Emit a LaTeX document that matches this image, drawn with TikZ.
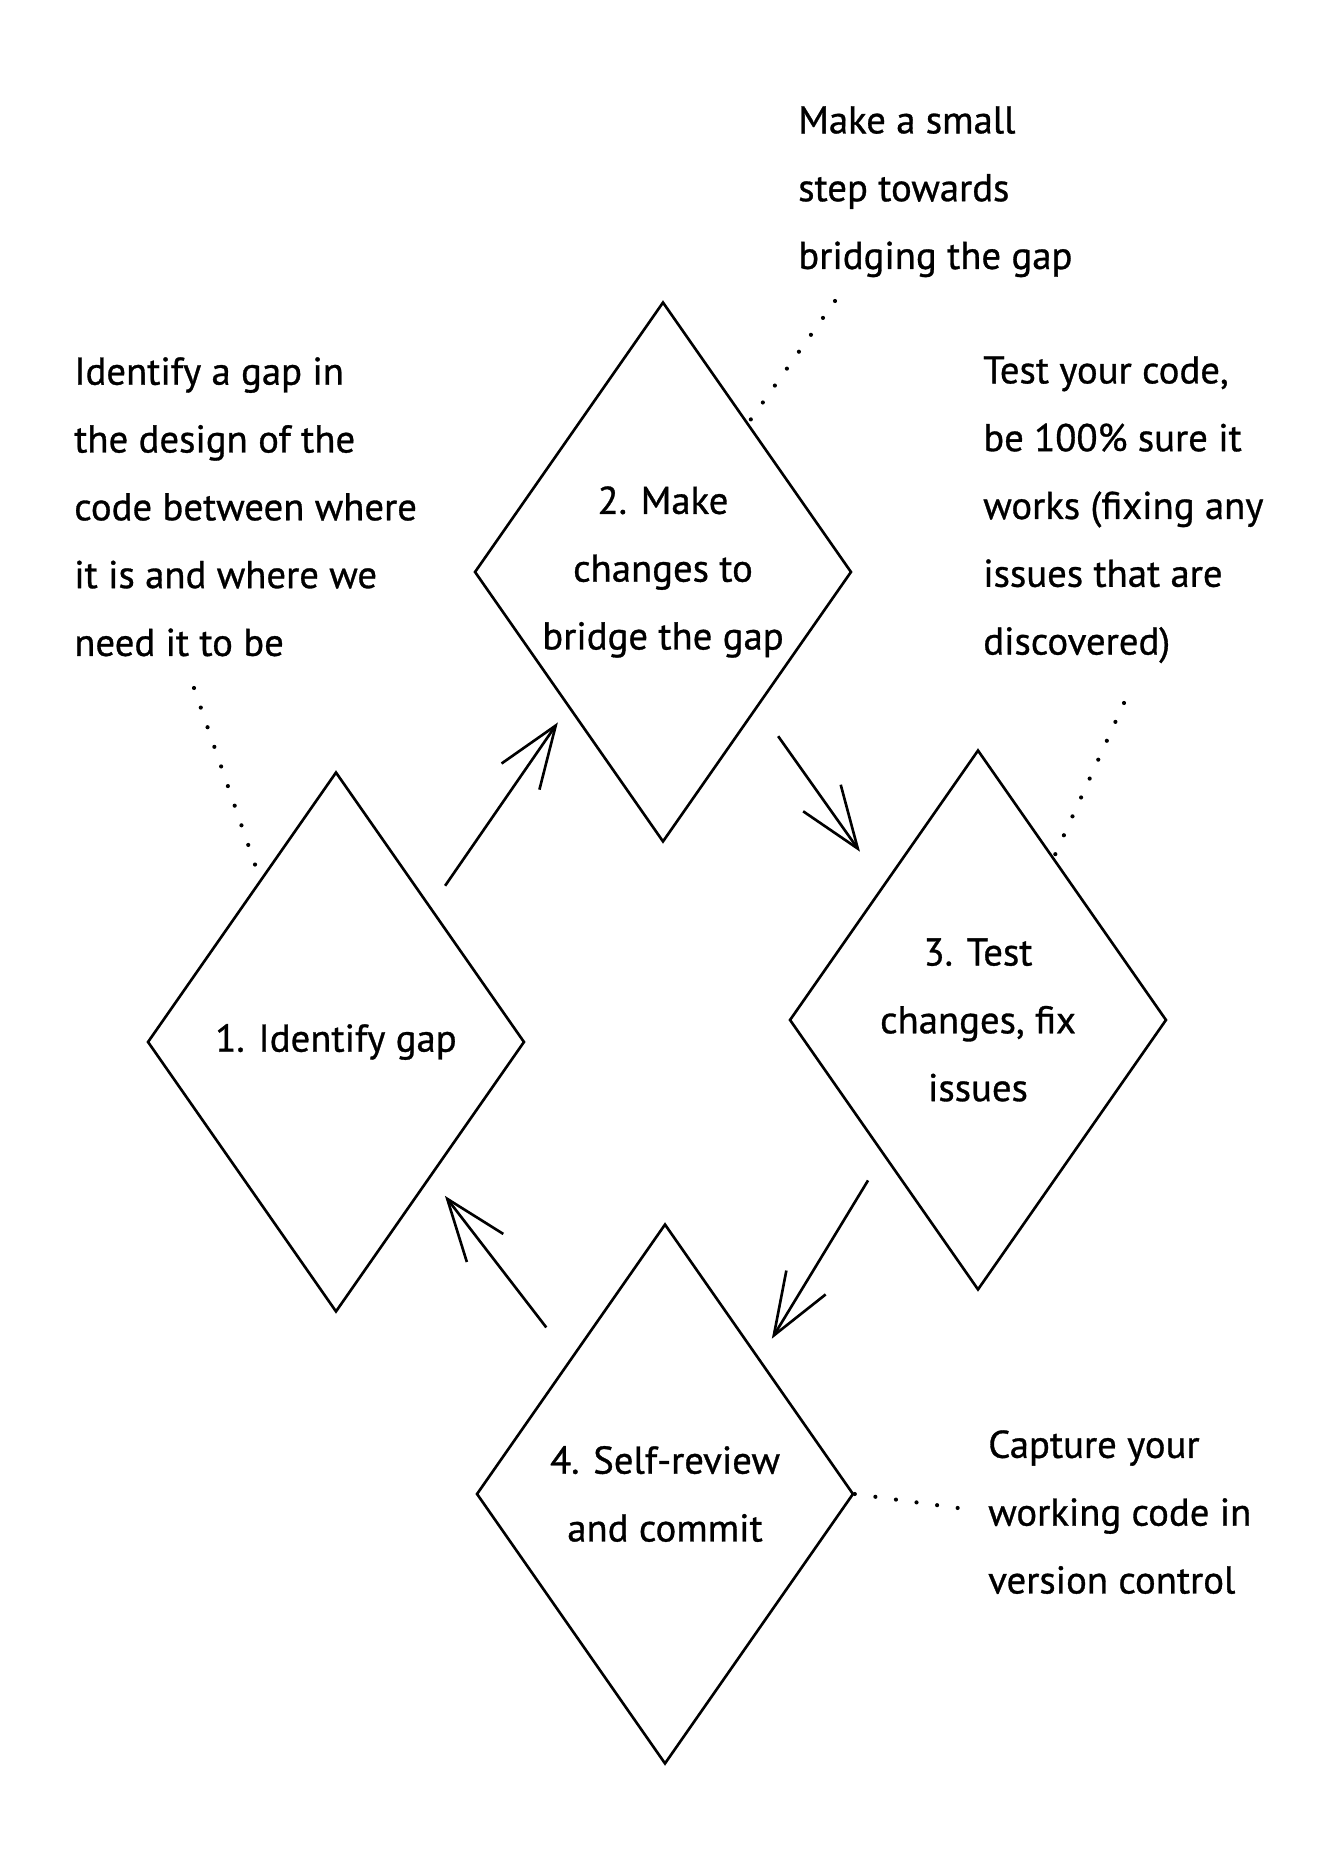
\documentclass[tikz,border=0pt]{standalone}
\usepackage{fontspec}
\setmainfont{PT Sans}[FakeBold=0.8]
\usetikzlibrary{arrows.meta,shapes.geometric,calc}
\begin{document}
\begin{tikzpicture}[x=1in,y=1in,
  stage/.style={draw=black, line width=1.9pt, shape=diamond, aspect=0.7, minimum width=3.77in, minimum height=5.40in, inner sep=0pt, align=center, font=\fontsize{28}{49}\selectfont},
  note/.style={anchor=north west, inner sep=0pt, align=left, font=\fontsize{28}{49}\selectfont},
  flow/.style={line width=1.9pt, -{Straight Barb[length=0.62in,width=0.46in,line width=1.9pt]}},
  hint/.style={line width=3pt, line cap=round, dash pattern=on 0pt off 15pt}]
\useasboundingbox (0,0) rectangle (13.39,18.69);
\node[stage] (identify) at (3.36,8.27) {1. Identify gap};
\node[stage] (change) at (6.63,12.97) {2. Make\\changes to\\bridge the gap};
\node[stage] (test) at (9.78,8.49) {3. Test\\changes, fix\\issues};
\node[stage] (commit) at (6.65,3.75) {4. Self-review\\and commit};
\node[note] (gapnote) at (0.74,15.12) {Identify a gap in\\the design of the\\code between where\\it is and where we\\need it to be};
\node[note] (stepnote) at (7.98,17.63) {Make a small\\step towards\\bridging the gap};
\node[note] (testnote) at (9.83,15.13) {Test your code,\\be 100\% sure it\\works (fixing any\\issues that are\\discovered)};
\node[note] (commitnote) at (9.88,4.39) {Capture your\\working code in\\version control};
\coordinate (gapdot) at (1.94,11.81);
\coordinate (stepdot) at (8.35,15.68);
\coordinate (testdot) at (11.24,11.66);
\draw[hint] (gapdot) -- ($(identify.north)!0.4!(identify.west)$);
\draw[hint] (stepdot) -- ($(change.north)!0.45!(change.east)$);
\draw[hint] (testdot) -- ($(test.north)!0.4!(test.east)$);
\draw[hint, shorten >=0.2in] (commit.east) -- (commitnote.west);
\draw[flow, shorten <=0.25in, shorten >=0.18in] (identify.north east) -- (change.south west);
\draw[flow, shorten <=0.35in, shorten >=0.40in] (change.south east) -- (test.north west);
\draw[flow, shorten <=0.29in, shorten >=0.23in] (test.south west) -- (commit.north east);
\draw[flow, shorten <=0.39in, shorten >=0.23in] (commit.north west) -- (identify.south east);
\end{tikzpicture}
\end{document}
